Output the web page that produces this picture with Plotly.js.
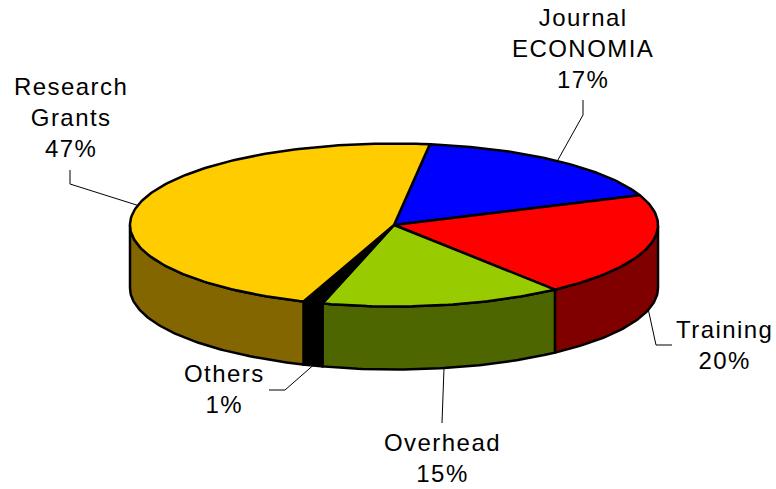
<!DOCTYPE html>
<html>
<head>
<meta charset="utf-8">
<script src="https://cdn.plot.ly/plotly-3.0.1.min.js"></script>
<style>
html,body{margin:0;padding:0;background:#fff}
#chart{width:776px;height:489px}
.annotation-text{letter-spacing:1.45px}
</style>
</head>
<body>
<div id="chart"></div>
<script>
// Data
const labels = ['Journal<br>ECONOMIA', 'Training', 'Overhead', 'Others', 'Research<br>Grants'];
const shownPercents = [17, 20, 15, 1, 47];          // as printed on the labels
const sliceValues = [16.9, 20.5, 14.8, 1.2, 46.6];  // slice sizes
const topColors = ['#0000FF', '#FF0000', '#99CC00', '#000000', '#FFCC00'];
const wallColors = ['#000080', '#800000', '#4D6600', '#000000', '#846600'];

// Pie geometry, in the units of the axes
const cx = 394, cy = 225, rx = 264, ry = 81.5, depth = 63, startAngle = 7.8;
const px = a => cx + rx * Math.sin(a * Math.PI / 180);
const py = (a, drop) => cy - ry * Math.cos(a * Math.PI / 180) + (drop || 0);
function range(a0, a1) {
  const out = [], n = Math.max(2, Math.ceil(a1 - a0));
  for (let i = 0; i <= n; i++) out.push(a0 + (a1 - a0) * i / n);
  return out;
}

// Slice angles from the values
const slices = [];
let acc = startAngle;
const total = sliceValues.reduce((s, v) => s + v, 0);
sliceValues.forEach(v => {
  const sweep = v / total * 360;
  slices.push({a0: acc, a1: acc + sweep, mid: acc + sweep / 2});
  acc += sweep;
});

const traces = [];
const edge = {color: '#000', width: 2.5};
// Side walls (front half only)
slices.forEach((s, i) => {
  const a0 = Math.max(s.a0, 90), a1 = Math.min(s.a1, 270);
  if (a1 <= a0) return;
  const arc = range(a0, a1), back = arc.slice().reverse();
  traces.push({
    type: 'scatter', mode: 'lines', fill: 'toself', fillcolor: wallColors[i], line: edge,
    x: arc.map(a => px(a)).concat(back.map(a => px(a)), [px(arc[0])]),
    y: arc.map(a => py(a)).concat(back.map(a => py(a, depth)), [py(arc[0])]),
    hoverinfo: 'skip', showlegend: false
  });
});
// Top faces
slices.forEach((s, i) => {
  const arc = range(s.a0, s.a1);
  traces.push({
    type: 'scatter', mode: 'lines', fill: 'toself', fillcolor: topColors[i], line: edge,
    x: [cx].concat(arc.map(a => px(a)), [cx]),
    y: [cy].concat(arc.map(a => py(a)), [cy]),
    hoverinfo: 'skip', showlegend: false
  });
});

// Leader lines: from each slice's rim to its label
const leaderBends = [
  [[583, 115], [583, 100]],
  [[656, 345], [672, 345]],
  [[442, 423]],
  [[285, 390], [269, 390]],
  [[70, 184], [70, 170]]
];
const leaderDrops = [0, depth, depth, depth, 0];
slices.forEach((s, i) => {
  traces.push({
    type: 'scatter', mode: 'lines', line: {color: '#000', width: 1},
    x: [px(s.mid)].concat(leaderBends[i].map(p => p[0])),
    y: [py(s.mid, leaderDrops[i])].concat(leaderBends[i].map(p => p[1])),
    hoverinfo: 'skip', showlegend: false
  });
});

// Labels
const labelX = [583, 724.5, 442, 224.5, 70.5];
const labelY = [48.5, 344.5, 458, 388.5, 117.5];
const annotations = labels.map((t, i) => ({
  x: labelX[i], y: labelY[i], xref: 'x', yref: 'y',
  text: t + '<br>' + shownPercents[i] + '%',
  showarrow: false, xanchor: 'center', yanchor: 'middle', align: 'center',
  font: {family: '"Liberation Sans", Arial, sans-serif', size: 24, color: '#000'}
}));

const hidden = {visible: false, fixedrange: true, showgrid: false, zeroline: false};
Plotly.newPlot('chart', traces, {
  width: 776, height: 489,
  margin: {l: 0, r: 0, t: 0, b: 0},
  paper_bgcolor: '#fff', plot_bgcolor: '#fff',
  xaxis: Object.assign({range: [0, 776]}, hidden),
  yaxis: Object.assign({range: [489, 0]}, hidden),
  annotations: annotations,
  showlegend: false
}, {displayModeBar: false, staticPlot: true});
</script>
</body>
</html>
